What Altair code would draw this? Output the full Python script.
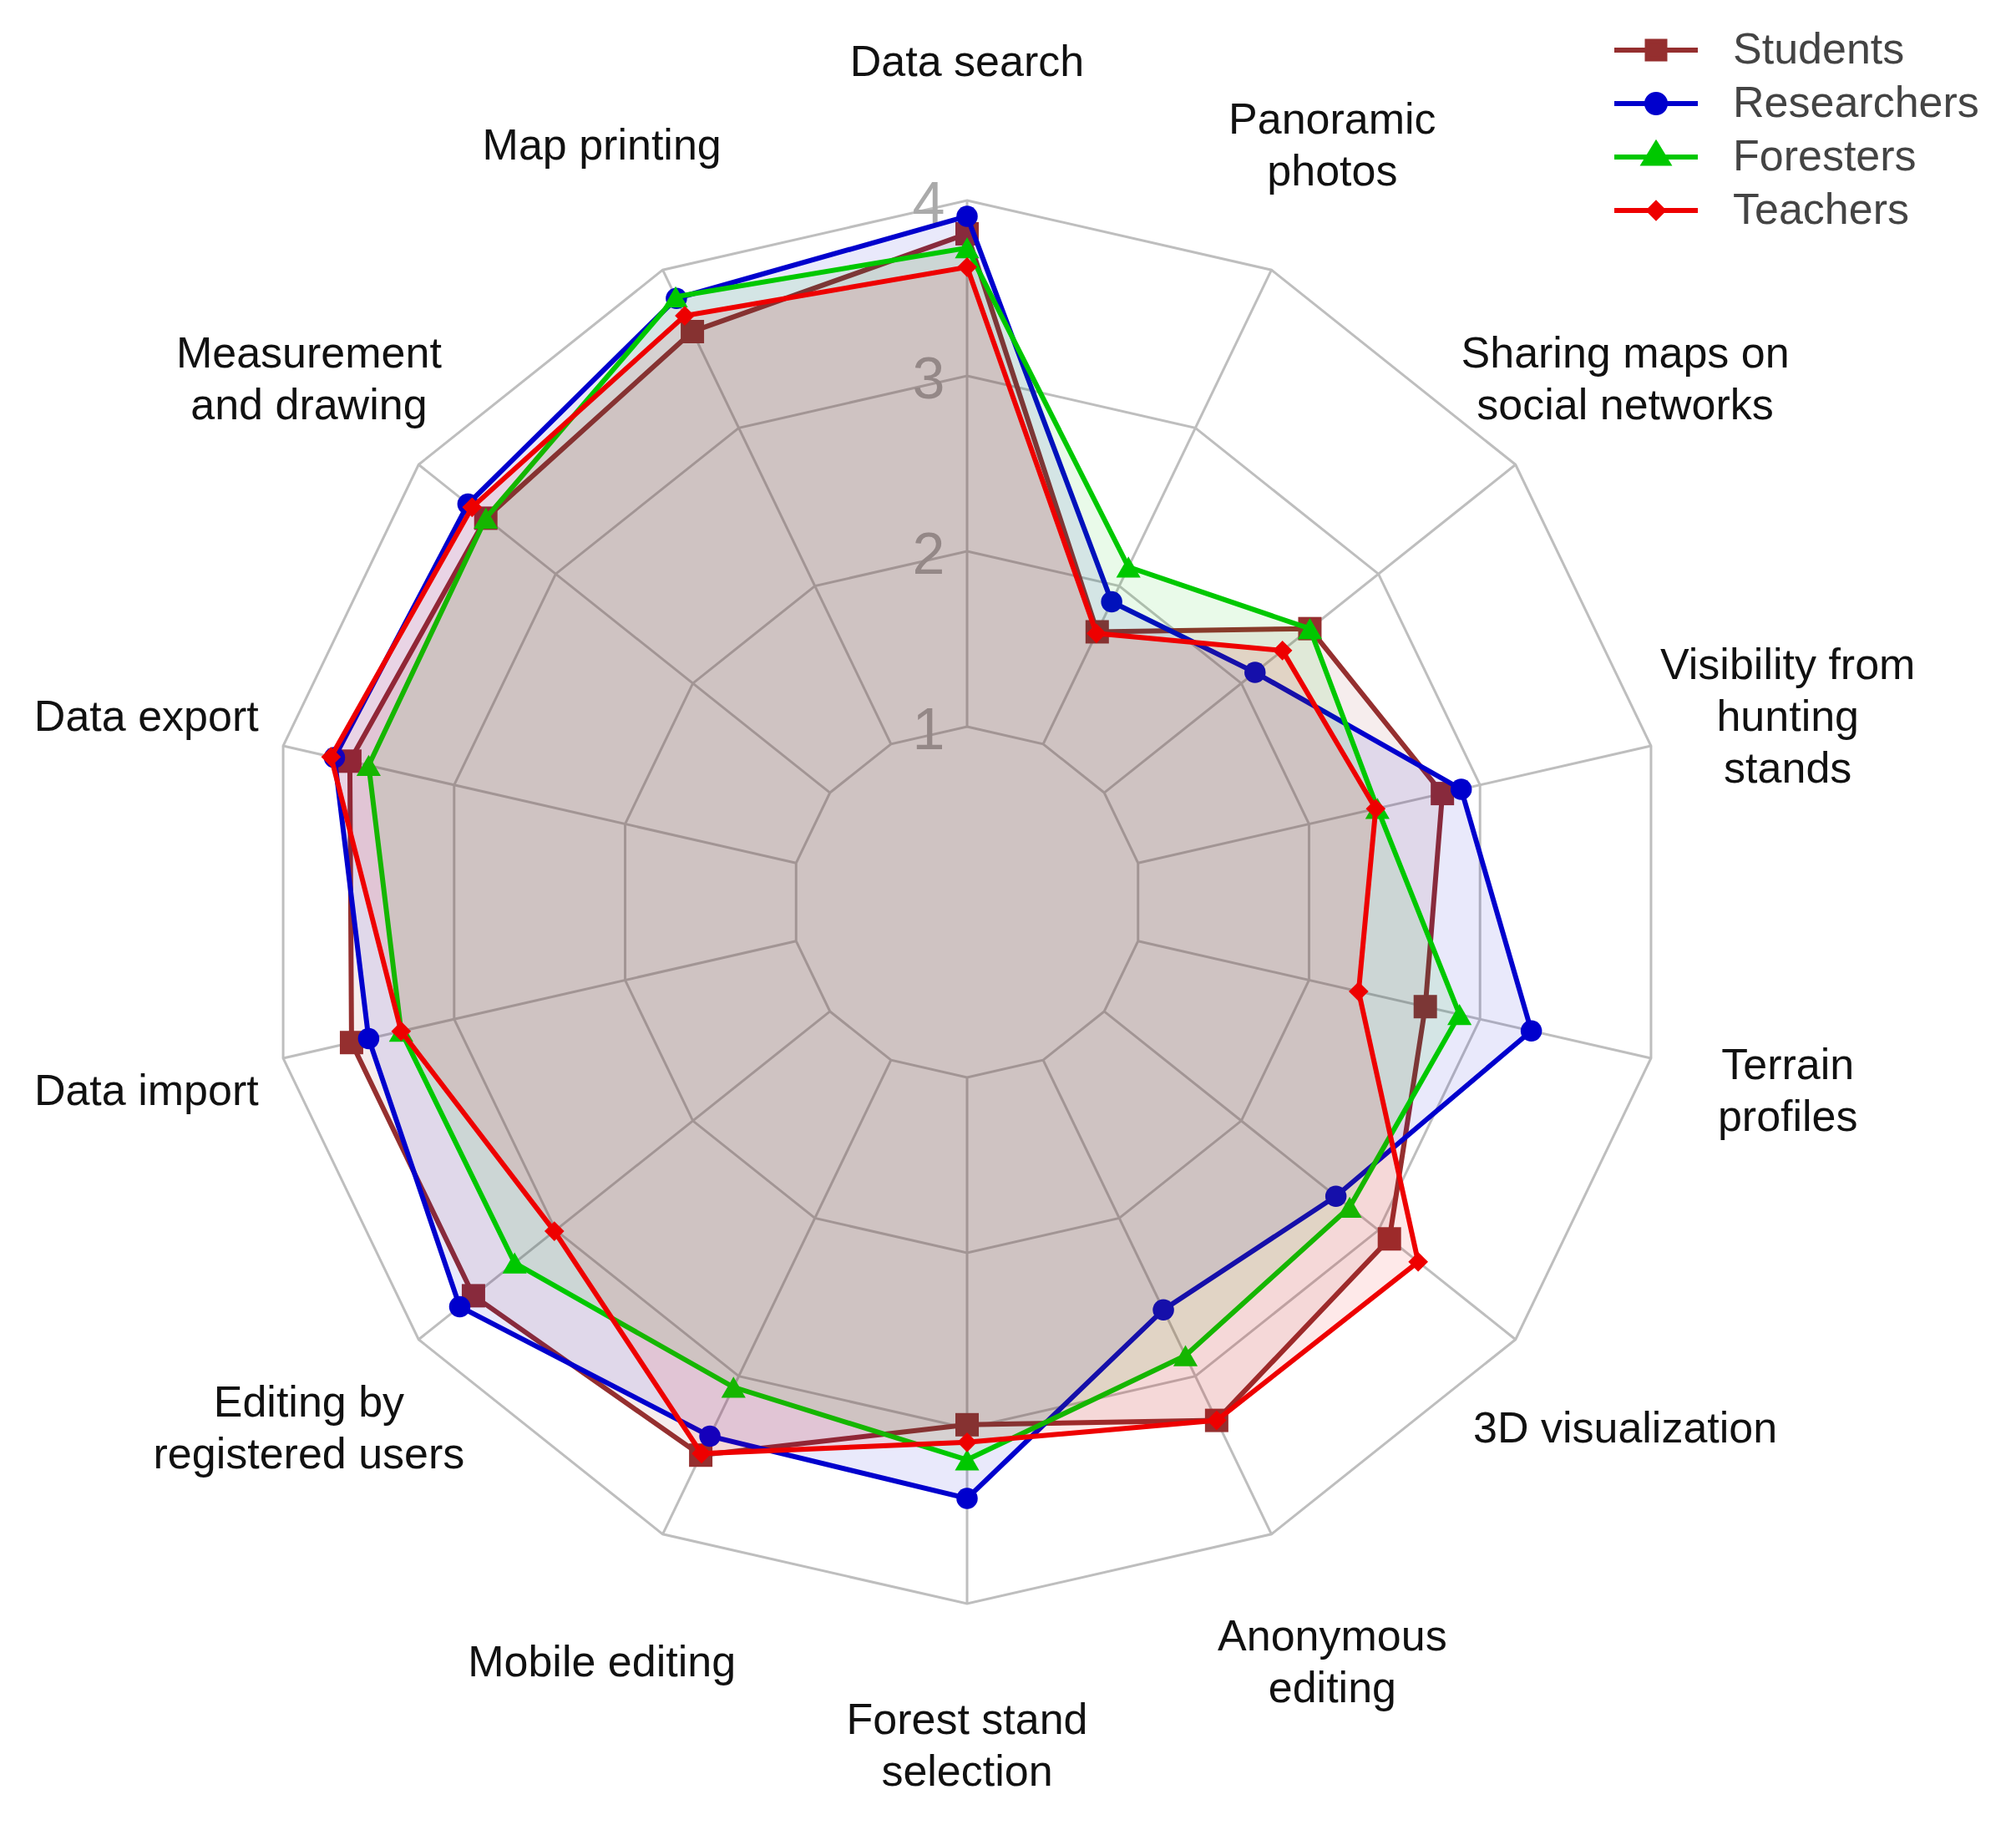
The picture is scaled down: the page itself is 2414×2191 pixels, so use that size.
import altair as alt
import pandas as pd

# ---------------- data ----------------
categories = [
    "Data search", "Panoramic\nphotos", "Sharing maps on\nsocial networks",
    "Visibility from\nhunting\nstands", "Terrain\nprofiles", "3D visualization",
    "Anonymous\nediting", "Forest stand\nselection", "Mobile editing",
    "Editing by\nregistered users", "Data import", "Data export",
    "Measurement\nand drawing", "Map printing",
]
series_names = ["Students", "Researchers", "Foresters", "Teachers"]
students    = [3.81, 1.71, 2.50, 2.78, 2.68, 3.08, 3.28, 2.98, 3.50, 3.60, 3.60, 3.61, 3.51, 3.61]
researchers = [3.91, 1.90, 2.10, 2.89, 3.30, 2.69, 2.58, 3.40, 3.38, 3.70, 3.50, 3.70, 3.64, 3.82]
foresters   = [3.73, 2.12, 2.50, 2.40, 2.88, 2.79, 2.87, 3.18, 3.07, 3.30, 3.31, 3.50, 3.51, 3.83]
teachers    = [3.62, 1.70, 2.30, 2.39, 2.29, 3.29, 3.28, 3.08, 3.49, 3.01, 3.31, 3.72, 3.61, 3.71]
ring_values = [1, 2, 3, 4]
tick_labels = ["1", "2", "3", "4"]

colors = ["#952F2F", "#0000CD", "#00C800", "#EE0000"]
point_shapes = ["square", "circle", "triangle-up", "diamond"]
point_sizes = [784, 650, 850, 560]
legend_paths = [
    "M-1.667,0H1.667M-0.35,-0.35H0.35V0.35H-0.35Z",
    "M-1.667,0H1.667M-0.367,0A0.367,0.367,0,1,0,0.367,0A0.367,0.367,0,1,0,-0.367,0Z",
    "M-1.667,0H1.667M0,-0.52L0.47,0.25H-0.47Z",
    "M-1.667,0H1.667M0,-0.28L0.28,0L0,0.28L-0.28,0Z",
]

# ---------------- layout ----------------
W, H = 2398, 2175
CX, CY, UNIT = 1150, 1072, 210.0
N = len(categories)
RMAX = max(ring_values)
LABEL_R = 1.2 * RMAX
LINE_H = 62

xs = alt.Scale(domain=[-CX / UNIT, (W - CX) / UNIT], nice=False, zero=False)
ys = alt.Scale(domain=[-(H - CY) / UNIT, CY / UNIT], nice=False, zero=False)
X = alt.X("x:Q", scale=xs, axis=None)
Y = alt.Y("y:Q", scale=ys, axis=None)


def polar(ch, yshift="0"):
    return (ch.transform_calculate(ang=f"datum.idx * 2 * PI / {N}")
              .transform_calculate(x="datum.r * sin(datum.ang)",
                                   y=f"datum.r * cos(datum.ang) + ({yshift})"))


rings_df = pd.DataFrame([{"ring": r, "idx": i, "r": r}
                         for r in ring_values for i in range(N)])
spokes_df = pd.DataFrame([{"idx": i, "r": r}
                          for i in range(N) for r in (min(ring_values), RMAX)])
ticks_df = pd.DataFrame({"idx": 0, "r": ring_values, "text": tick_labels})
cat_df = pd.DataFrame({"idx": list(range(N)), "r": LABEL_R, "label": categories})

GRID = "#BEBEBE"

rings = polar(alt.Chart(rings_df)).mark_line(
    interpolate="linear-closed", color=GRID, strokeWidth=3
).encode(x=X, y=Y, detail="ring:N", order="idx:Q")

spokes = polar(alt.Chart(spokes_df)).mark_line(
    color=GRID, strokeWidth=3
).encode(x=X, y=Y, detail="idx:N", order="r:Q")

ticks = polar(alt.Chart(ticks_df)).mark_text(
    font="Liberation Sans", fontSize=70, color="#AAAAAA", dx=-46, dy=6,
    align="center", baseline="middle"
).encode(x=X, y=Y, text="text:N")

# centre multi-line labels on their anchor point
cats = polar(
    alt.Chart(cat_df),
    yshift=f"(length(split(datum.label, '\\n')) - 1) * {LINE_H} / (2 * {UNIT})",
).mark_text(
    font="Liberation Sans", fontSize=52, lineHeight=LINE_H, lineBreak="\n",
    color="#111111", align="center", baseline="middle", dy=3
).encode(x=X, y=Y, text="label:N")

layers = [rings, spokes, ticks]
for name, vals, col, shp, sz in zip(series_names,
                                    [students, researchers, foresters, teachers],
                                    colors, point_shapes, point_sizes):
    df = pd.DataFrame({"idx": list(range(N)), "r": vals, "series": name})
    base = polar(alt.Chart(df))
    poly = base.mark_line(
        interpolate="linear-closed", stroke=col, strokeWidth=6,
        fill=col, fillOpacity=0.085
    ).encode(x=X, y=Y, order="idx:Q")
    pts = base.mark_point(
        shape=shp, filled=True, size=sz, color=col, opacity=1
    ).encode(x=X, y=Y)
    layers += [poly, pts]

layers.append(cats)

leg = alt.Legend(
    title=None, orient="none", legendX=1942, legendY=19,
    symbolSize=3600, symbolStrokeWidth=6, symbolOpacity=1,
    labelFont="Liberation Sans", labelFontSize=52, labelColor="#444444",
    labelOffset=59, rowPadding=5, padding=0, labelLimit=0,
)
leg_df = pd.DataFrame({"series": series_names})
legend_layer = alt.Chart(leg_df).mark_point(filled=True, strokeWidth=6).encode(
    shape=alt.Shape("series:N", sort=series_names,
                    scale=alt.Scale(domain=series_names, range=legend_paths), legend=leg),
    fill=alt.Fill("series:N", sort=series_names,
                  scale=alt.Scale(domain=series_names, range=colors), legend=leg),
    stroke=alt.Stroke("series:N", sort=series_names,
                      scale=alt.Scale(domain=series_names, range=colors), legend=leg),
    opacity=alt.value(0),
)
layers.append(legend_layer)

chart = alt.layer(*layers).properties(
    width=W, height=H, padding=0, autosize=alt.AutoSizeParams(type="none"),
    background="white"
).configure_view(stroke=None)

chart.save("out.html", embed_options={"renderer": "svg", "actions": False})
